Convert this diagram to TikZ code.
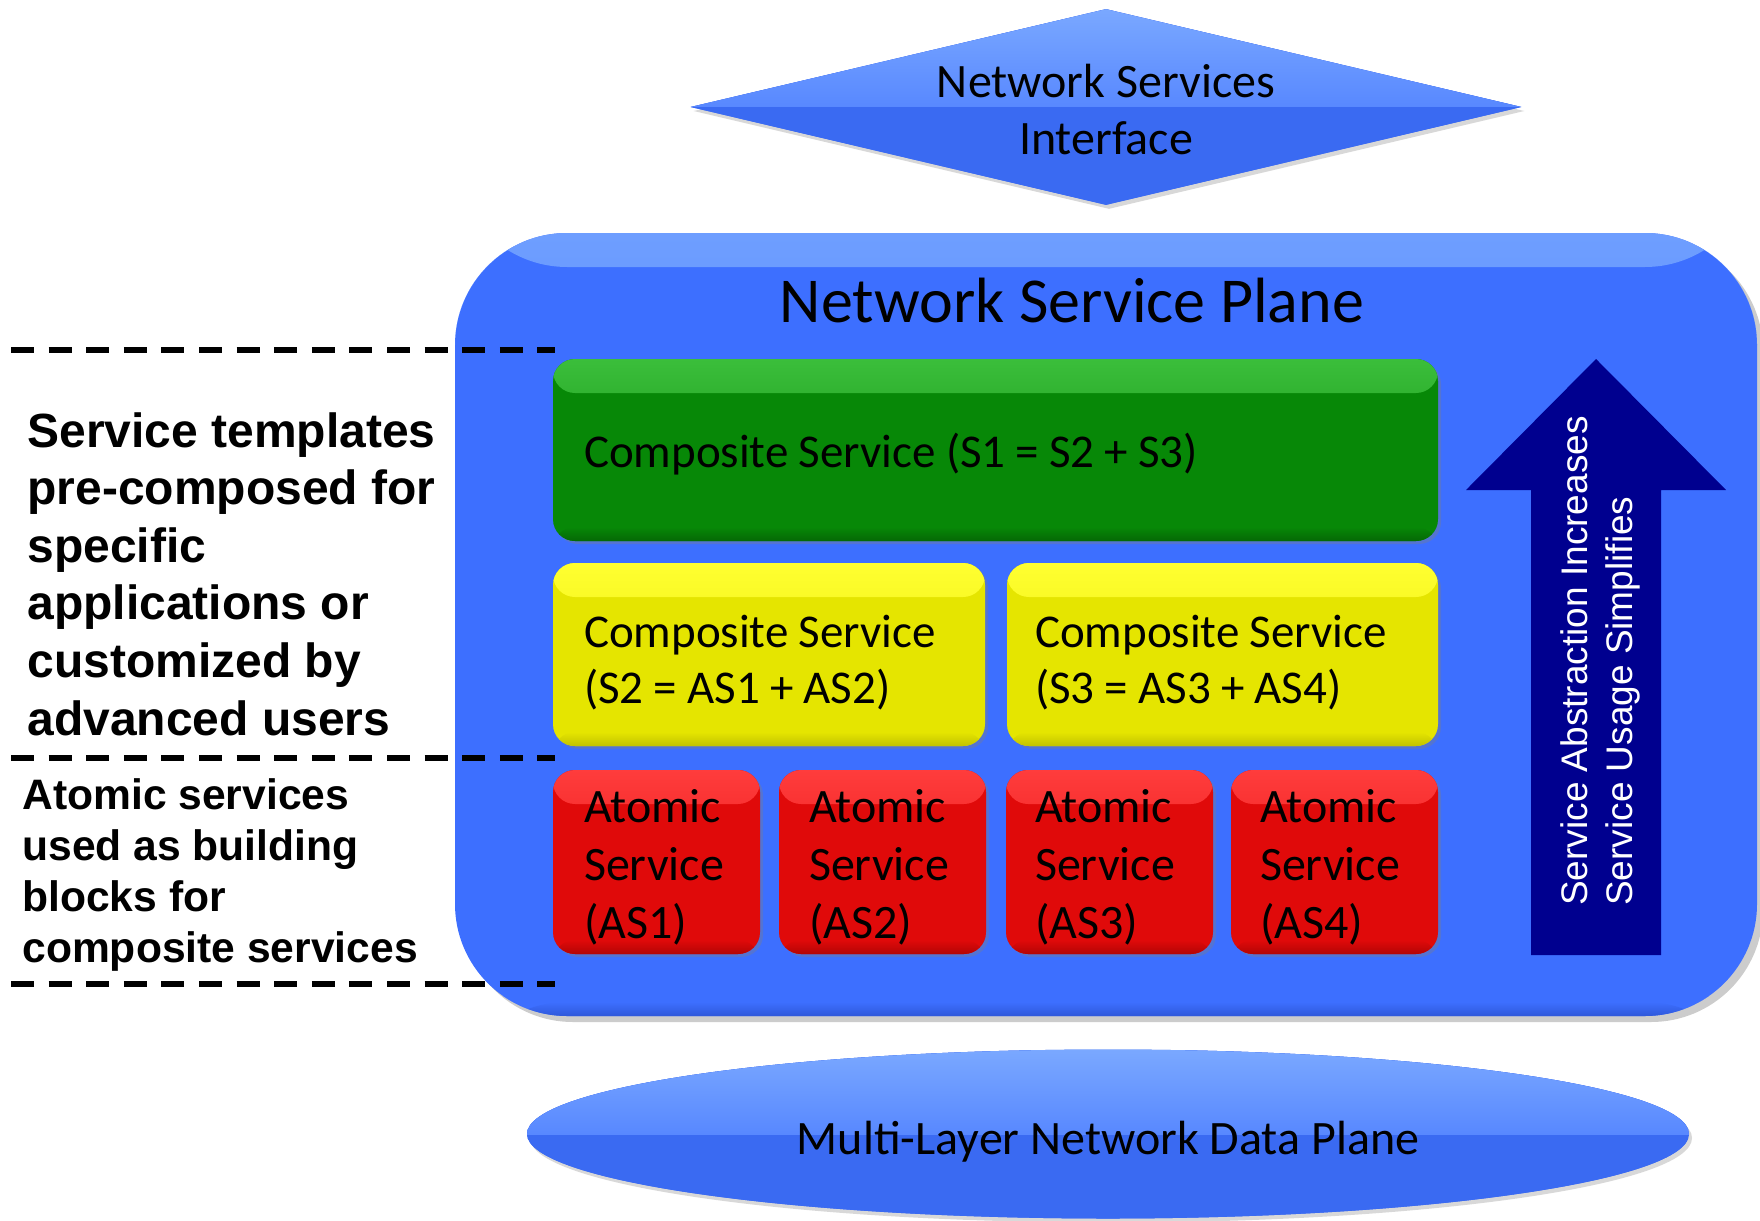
\documentclass[tikz,border=0pt]{standalone}
\usepackage{fontspec}
\setmainfont{Carlito}
\newfontfamily\compfont{Carlito}[WordSpace=0.955]
\newfontfamily\arialfont{Liberation Sans}
\usetikzlibrary{shapes.geometric,shadows}
\definecolor{planeblue}{HTML}{3D6FFF}
\definecolor{planelight}{HTML}{6E9EFF}
\definecolor{planedark}{HTML}{2F58DA}
\definecolor{dmdtop}{HTML}{7AA8FF}
\definecolor{dmdmid}{HTML}{5888FF}
\definecolor{dmdlow}{HTML}{3A6AF2}
\definecolor{gbase}{HTML}{078807}
\definecolor{glight}{HTML}{3BBE3B}
\definecolor{gdark}{HTML}{056805}
\definecolor{ybase}{HTML}{E5E500}
\definecolor{ylight}{HTML}{FFFF30}
\definecolor{ydark}{HTML}{C2C200}
\definecolor{rbase}{HTML}{E00A0A}
\definecolor{rlight}{HTML}{FF3C3C}
\definecolor{rdark}{HTML}{B30505}
\definecolor{navy}{HTML}{00008F}
\begin{document}
\begin{tikzpicture}[x=0.5pt,y=-0.5pt,
  gloss/.style n args={3}{fill=#1, path picture={
    \shade[top color=#2, bottom color=#1] (path picture bounding box.north west) rectangle ([yshift=-17pt]path picture bounding box.north east);
    \shade[top color=#1, bottom color=#3] ([yshift=7pt]path picture bounding box.south west) rectangle (path picture bounding box.south east);
  }},
  halfgloss/.style={fill=dmdlow, path picture={
    \fill[dmdlow] (path picture bounding box.south west) rectangle (path picture bounding box.north east);
    \shade[top color=dmdtop, bottom color=dmdmid] (path picture bounding box.north west) rectangle (path picture bounding box.east);
  }},
  svcbox/.style={rounded corners=11pt, inner sep=0pt,
    drop shadow={shadow xshift=1.5pt,shadow yshift=-1.5pt,opacity=0.35}},
  greenbox/.style={svcbox, gloss={gbase}{glight}{gdark}},
  yellowbox/.style={svcbox, gloss={ybase}{ylight}{ydark}},
  redbox/.style={svcbox, gloss={rbase}{rlight}{rdark}},
  comptext/.style={anchor=west, align=left, inner sep=0pt, text=black, font=\compfont\fontsize{23.5}{28}\selectfont},
  atomtext/.style={anchor=west, align=left, inner sep=0pt, text=black, font=\fontsize{24}{29}\selectfont},
  sidetext/.style={anchor=west, align=left, inner sep=0pt, text=black},
  sepline/.style={line width=2.7pt, dash pattern=on 11.5pt off 7.3pt, black},
]
\useasboundingbox (0,0) rectangle (1760,1220);
\fill[white] (0,0) rectangle (1760,1220);

% Network Services Interface (diamond)
\node[diamond, shape aspect=4.24, minimum width=415.5pt, minimum height=98pt, inner sep=0pt, halfgloss,
  drop shadow={shadow xshift=1.5pt,shadow yshift=-2pt,opacity=0.3}]
  (nsi) at (1106,107) {};
\node[align=center, inner sep=0pt, font=\fontsize{24}{28.5}\selectfont] (nsitext) at (1106,110)
  {Network Services\\Interface};

% Network Service Plane
\node[rectangle, rounded corners=56pt, minimum width=651pt, minimum height=391.5pt, inner sep=0pt,
  gloss={planeblue}{planelight}{planedark},
  drop shadow={shadow xshift=3pt,shadow yshift=-3pt,opacity=0.4}]
  (plane) at (1106,624.5) {};
\node[font=\fontsize{32}{38}\selectfont, inner sep=0pt] (title) at (1072,301) {Network Service Plane};

% dashed separators
\coordinate (d1a) at (11,350);  \coordinate (d1b) at (555,350);
\coordinate (d2a) at (11,758);  \coordinate (d2b) at (555,758);
\coordinate (d3a) at (11,984);  \coordinate (d3b) at (555,984);
\draw[sepline] (d1a) -- (d1b);
\draw[sepline] (d2a) -- (d2b);
\draw[sepline] (d3a) -- (d3b);

% service boxes
\node[greenbox, minimum width=442.5pt, minimum height=91pt] (s1) at (995.5,450) {};
\node[yellowbox, minimum width=216pt, minimum height=91.5pt] (s2) at (769,654.5) {};
\node[yellowbox, minimum width=215.5pt, minimum height=91.5pt] (s3) at (1222.5,654.5) {};
\node[redbox, minimum width=103.5pt, minimum height=92pt] (as1) at (656.5,862) {};
\node[redbox, minimum width=103.5pt, minimum height=92pt] (as2) at (882.5,862) {};
\node[redbox, minimum width=103.5pt, minimum height=92pt] (as3) at (1109.5,862) {};
\node[redbox, minimum width=103.5pt, minimum height=92pt] (as4) at (1334.5,862) {};

\node[comptext] (s1t) at ([xshift=15.5pt,yshift=-2.2pt]s1.west) {Composite Service (S1 = S2 + S3)};
\node[comptext] (s2t) at ([xshift=15.5pt,yshift=-3.8pt]s2.west) {Composite Service\\(S2 = AS1 + AS2)};
\node[comptext] (s3t) at ([xshift=14pt,yshift=-3.8pt]s3.west) {Composite Service\\(S3 = AS3 + AS4)};
\node[atomtext] (as1t) at ([xshift=15.5pt,yshift=-2.5pt]as1.west) {Atomic\\Service\\(AS1)};
\node[atomtext] (as2t) at ([xshift=15pt,yshift=-2.5pt]as2.west) {Atomic\\Service\\(AS2)};
\node[atomtext] (as3t) at ([xshift=14.5pt,yshift=-2.5pt]as3.west) {Atomic\\Service\\(AS3)};
\node[atomtext] (as4t) at ([xshift=14.5pt,yshift=-2.5pt]as4.west) {Atomic\\Service\\(AS4)};

% abstraction arrow
\fill[navy] (1531,955) -- (1531,490) -- (1466,490) -- (1596,359) -- (1726,490) -- (1661,490) -- (1661,955) -- cycle;
\node[rotate=90, align=left, inner sep=0pt, text=white, font=\arialfont\fontsize{18.5}{22.5}\selectfont]
  (arrowtext) at (1600.5,661) {Service Abstraction Increases\\Service Usage Simplifies};

% side texts
\node[sidetext, font=\arialfont\bfseries\fontsize{24}{28.8}\selectfont] (tmpl) at (27,574)
  {Service templates\\pre-composed for\\specific\\applications or\\customized by\\advanced users};
\node[sidetext, font=\arialfont\bfseries\fontsize{21.3}{25.5}\selectfont] (atomtxt) at (22,875)
  {Atomic services\\used as building\\blocks for\\composite services};

% Multi-Layer Network Data Plane (ellipse)
\node[ellipse, minimum width=581pt, minimum height=84.5pt, inner sep=0pt, halfgloss,
  drop shadow={shadow xshift=1.5pt,shadow yshift=-2pt,opacity=0.3}]
  (dataplane) at (1108,1134) {};
\node[inner sep=0pt, font=\fontsize{24}{28.5}\selectfont] (dptext) at (1108,1142) {Multi-Layer Network Data Plane};
\end{tikzpicture}
\end{document}
